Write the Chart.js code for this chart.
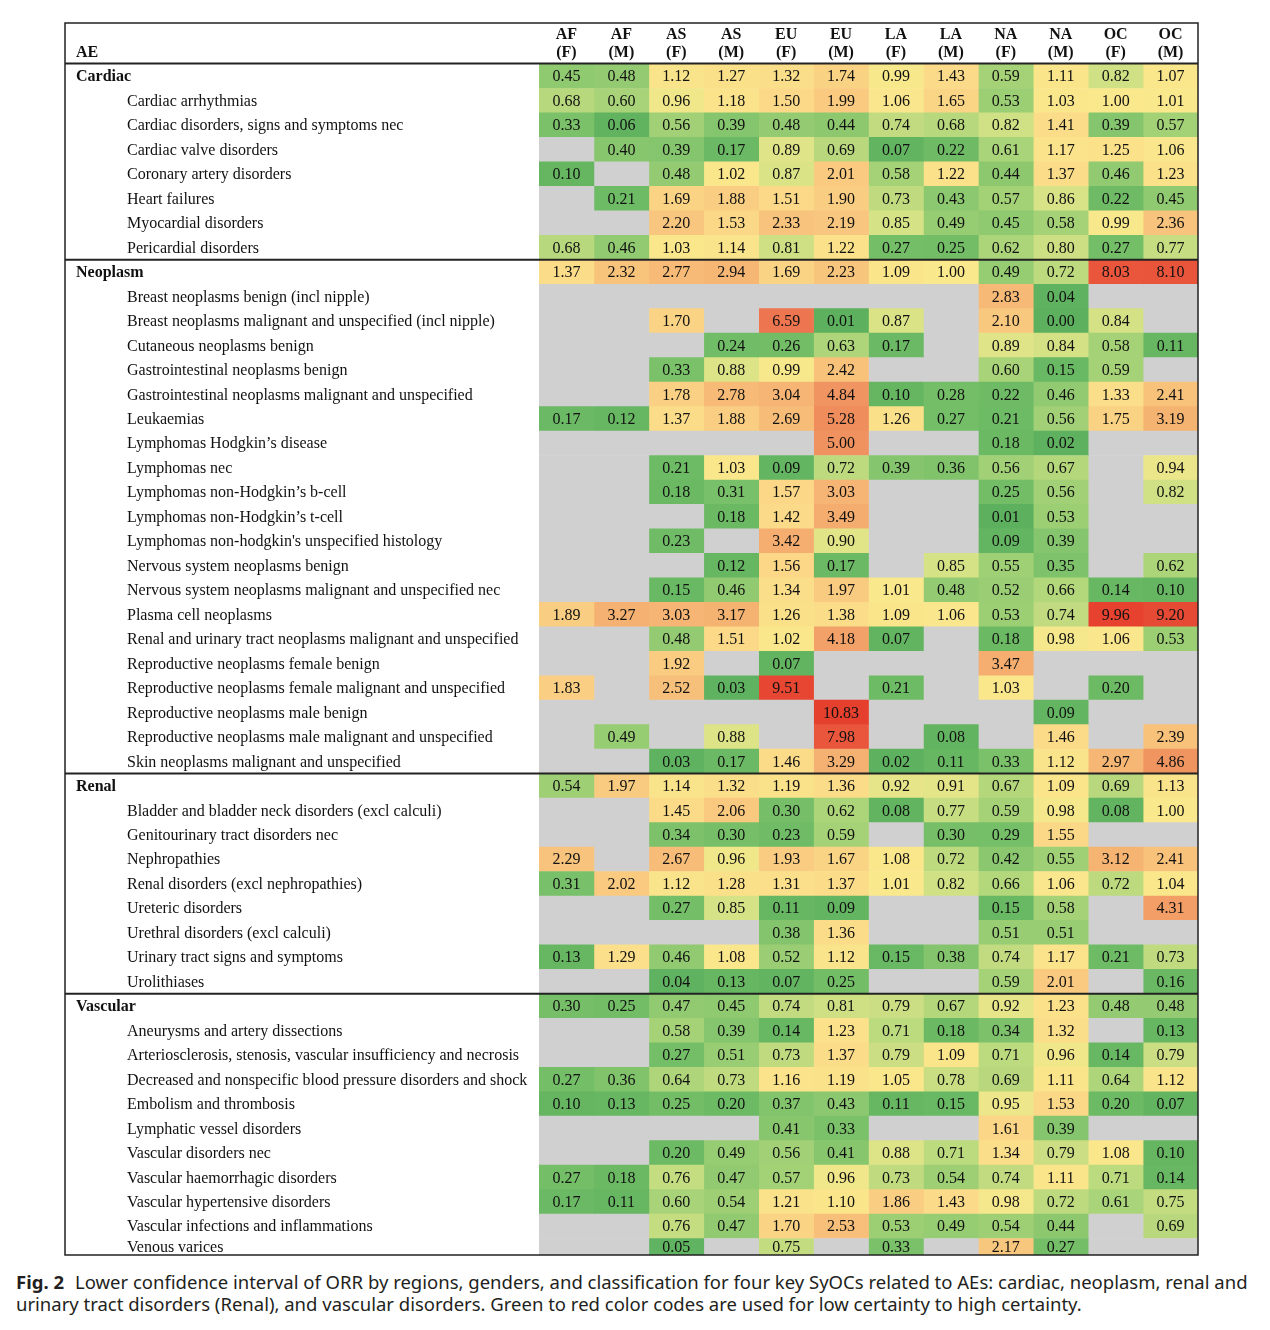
<!DOCTYPE html>
<html lang="en">
<head>
    <meta charset="UTF-8">
    <title>Fig. 2 Lower confidence interval of ORR</title>
    <script src="https://cdn.jsdelivr.net/npm/chart.js"></script>
    <style>
        body {
            margin: 0;
            background: #fff;
        }
        #wrap {
            position: relative;
            width: 1270px;
            height: 1330px;
        }
        #heat {
            position: absolute;
            left: 0;
            top: 0;
        }
        .caption {
            position: absolute;
            left: 16px;
            top: 1271px;
            font-family: "Noto Sans", sans-serif;
            font-size: 18.5px;
            line-height: 22px;
            color: #231f20;
            white-space: nowrap;
        }
        .caption b {
            margin-right: 11px;
        }
    </style>
</head>
<body>
<div id="wrap">
    <canvas id="heat" width="1270" height="1268"></canvas>
    <div class="caption"><b>Fig. 2</b>Lower confidence interval of ORR by regions, genders, and classification for four key SyOCs related to AEs: cardiac, neoplasm, renal and<br>urinary tract disorders (Renal), and vascular disorders. Green to red color codes are used for low certainty to high certainty.</div>
</div>

<script>
    // column headers: region + gender
    const columns = [
        ['AF', '(F)'], ['AF', '(M)'], ['AS', '(F)'], ['AS', '(M)'],
        ['EU', '(F)'], ['EU', '(M)'], ['LA', '(F)'], ['LA', '(M)'],
        ['NA', '(F)'], ['NA', '(M)'], ['OC', '(F)'], ['OC', '(M)']
    ];

    const groupNames = ['Cardiac', 'Neoplasm', 'Renal', 'Vascular'];

    const cardiacItems = [
        'Cardiac arrhythmias',
        'Cardiac disorders, signs and symptoms nec',
        'Cardiac valve disorders',
        'Coronary artery disorders',
        'Heart failures',
        'Myocardial disorders',
        'Pericardial disorders'
    ];
    const neoplasmItems = [
        'Breast neoplasms benign (incl nipple)',
        'Breast neoplasms malignant and unspecified (incl nipple)',
        'Cutaneous neoplasms benign',
        'Gastrointestinal neoplasms benign',
        'Gastrointestinal neoplasms malignant and unspecified',
        'Leukaemias',
        'Lymphomas Hodgkin\u2019s disease',
        'Lymphomas nec',
        'Lymphomas non-Hodgkin\u2019s b-cell',
        'Lymphomas non-Hodgkin\u2019s t-cell',
        "Lymphomas non-hodgkin's unspecified histology",
        'Nervous system neoplasms benign',
        'Nervous system neoplasms malignant and unspecified nec',
        'Plasma cell neoplasms',
        'Renal and urinary tract neoplasms malignant and unspecified',
        'Reproductive neoplasms female benign',
        'Reproductive neoplasms female malignant and unspecified',
        'Reproductive neoplasms male benign',
        'Reproductive neoplasms male malignant and unspecified',
        'Skin neoplasms malignant and unspecified'
    ];
    const renalItems = [
        'Bladder and bladder neck disorders (excl calculi)',
        'Genitourinary tract disorders nec',
        'Nephropathies',
        'Renal disorders (excl nephropathies)',
        'Ureteric disorders',
        'Urethral disorders (excl calculi)',
        'Urinary tract signs and symptoms',
        'Urolithiases'
    ];
    const vascularItems = [
        'Aneurysms and artery dissections',
        'Arteriosclerosis, stenosis, vascular insufficiency and necrosis',
        'Decreased and nonspecific blood pressure disorders and shock',
        'Embolism and thrombosis',
        'Lymphatic vessel disorders',
        'Vascular disorders nec',
        'Vascular haemorrhagic disorders',
        'Vascular hypertensive disorders',
        'Vascular infections and inflammations',
        'Venous varices'
    ];

    // first row of each block is the group total, null = no value (grey)
    const cardiacValues = [
        [0.45, 0.48, 1.12, 1.27, 1.32, 1.74, 0.99, 1.43, 0.59, 1.11, 0.82, 1.07],
        [0.68, 0.60, 0.96, 1.18, 1.50, 1.99, 1.06, 1.65, 0.53, 1.03, 1.00, 1.01],
        [0.33, 0.06, 0.56, 0.39, 0.48, 0.44, 0.74, 0.68, 0.82, 1.41, 0.39, 0.57],
        [null, 0.40, 0.39, 0.17, 0.89, 0.69, 0.07, 0.22, 0.61, 1.17, 1.25, 1.06],
        [0.10, null, 0.48, 1.02, 0.87, 2.01, 0.58, 1.22, 0.44, 1.37, 0.46, 1.23],
        [null, 0.21, 1.69, 1.88, 1.51, 1.90, 0.73, 0.43, 0.57, 0.86, 0.22, 0.45],
        [null, null, 2.20, 1.53, 2.33, 2.19, 0.85, 0.49, 0.45, 0.58, 0.99, 2.36],
        [0.68, 0.46, 1.03, 1.14, 0.81, 1.22, 0.27, 0.25, 0.62, 0.80, 0.27, 0.77]
    ];
    const neoplasmValues = [
        [1.37, 2.32, 2.77, 2.94, 1.69, 2.23, 1.09, 1.00, 0.49, 0.72, 8.03, 8.10],
        [null, null, null, null, null, null, null, null, 2.83, 0.04, null, null],
        [null, null, 1.70, null, 6.59, 0.01, 0.87, null, 2.10, 0.00, 0.84, null],
        [null, null, null, 0.24, 0.26, 0.63, 0.17, null, 0.89, 0.84, 0.58, 0.11],
        [null, null, 0.33, 0.88, 0.99, 2.42, null, null, 0.60, 0.15, 0.59, null],
        [null, null, 1.78, 2.78, 3.04, 4.84, 0.10, 0.28, 0.22, 0.46, 1.33, 2.41],
        [0.17, 0.12, 1.37, 1.88, 2.69, 5.28, 1.26, 0.27, 0.21, 0.56, 1.75, 3.19],
        [null, null, null, null, null, 5.00, null, null, 0.18, 0.02, null, null],
        [null, null, 0.21, 1.03, 0.09, 0.72, 0.39, 0.36, 0.56, 0.67, null, 0.94],
        [null, null, 0.18, 0.31, 1.57, 3.03, null, null, 0.25, 0.56, null, 0.82],
        [null, null, null, 0.18, 1.42, 3.49, null, null, 0.01, 0.53, null, null],
        [null, null, 0.23, null, 3.42, 0.90, null, null, 0.09, 0.39, null, null],
        [null, null, null, 0.12, 1.56, 0.17, null, 0.85, 0.55, 0.35, null, 0.62],
        [null, null, 0.15, 0.46, 1.34, 1.97, 1.01, 0.48, 0.52, 0.66, 0.14, 0.10],
        [1.89, 3.27, 3.03, 3.17, 1.26, 1.38, 1.09, 1.06, 0.53, 0.74, 9.96, 9.20],
        [null, null, 0.48, 1.51, 1.02, 4.18, 0.07, null, 0.18, 0.98, 1.06, 0.53],
        [null, null, 1.92, null, 0.07, null, null, null, 3.47, null, null, null],
        [1.83, null, 2.52, 0.03, 9.51, null, 0.21, null, 1.03, null, 0.20, null],
        [null, null, null, null, null, 10.83, null, null, null, 0.09, null, null],
        [null, 0.49, null, 0.88, null, 7.98, null, 0.08, null, 1.46, null, 2.39],
        [null, null, 0.03, 0.17, 1.46, 3.29, 0.02, 0.11, 0.33, 1.12, 2.97, 4.86]
    ];
    const renalValues = [
        [0.54, 1.97, 1.14, 1.32, 1.19, 1.36, 0.92, 0.91, 0.67, 1.09, 0.69, 1.13],
        [null, null, 1.45, 2.06, 0.30, 0.62, 0.08, 0.77, 0.59, 0.98, 0.08, 1.00],
        [null, null, 0.34, 0.30, 0.23, 0.59, null, 0.30, 0.29, 1.55, null, null],
        [2.29, null, 2.67, 0.96, 1.93, 1.67, 1.08, 0.72, 0.42, 0.55, 3.12, 2.41],
        [0.31, 2.02, 1.12, 1.28, 1.31, 1.37, 1.01, 0.82, 0.66, 1.06, 0.72, 1.04],
        [null, null, 0.27, 0.85, 0.11, 0.09, null, null, 0.15, 0.58, null, 4.31],
        [null, null, null, null, 0.38, 1.36, null, null, 0.51, 0.51, null, null],
        [0.13, 1.29, 0.46, 1.08, 0.52, 1.12, 0.15, 0.38, 0.74, 1.17, 0.21, 0.73],
        [null, null, 0.04, 0.13, 0.07, 0.25, null, null, 0.59, 2.01, null, 0.16]
    ];
    const vascularValues = [
        [0.30, 0.25, 0.47, 0.45, 0.74, 0.81, 0.79, 0.67, 0.92, 1.23, 0.48, 0.48],
        [null, null, 0.58, 0.39, 0.14, 1.23, 0.71, 0.18, 0.34, 1.32, null, 0.13],
        [null, null, 0.27, 0.51, 0.73, 1.37, 0.79, 1.09, 0.71, 0.96, 0.14, 0.79],
        [0.27, 0.36, 0.64, 0.73, 1.16, 1.19, 1.05, 0.78, 0.69, 1.11, 0.64, 1.12],
        [0.10, 0.13, 0.25, 0.20, 0.37, 0.43, 0.11, 0.15, 0.95, 1.53, 0.20, 0.07],
        [null, null, null, null, 0.41, 0.33, null, null, 1.61, 0.39, null, null],
        [null, null, 0.20, 0.49, 0.56, 0.41, 0.88, 0.71, 1.34, 0.79, 1.08, 0.10],
        [0.27, 0.18, 0.76, 0.47, 0.57, 0.96, 0.73, 0.54, 0.74, 1.11, 0.71, 0.14],
        [0.17, 0.11, 0.60, 0.54, 1.21, 1.10, 1.86, 1.43, 0.98, 0.72, 0.61, 0.75],
        [null, null, 0.76, 0.47, 1.70, 2.53, 0.53, 0.49, 0.54, 0.44, null, 0.69],
        [null, null, 0.05, null, 0.75, null, 0.33, null, 2.17, 0.27, null, null]
    ];

    // green -> yellow -> red scale
    const colorStops = [
        [0.0, 92, 176, 94],
        [0.3, 118, 191, 104],
        [0.6, 168, 211, 120],
        [0.85, 214, 226, 134],
        [1.0, 250, 232, 140],
        [1.5, 251, 217, 136],
        [2.0, 249, 202, 128],
        [3.0, 246, 182, 116],
        [5.0, 240, 146, 95],
        [7.0, 236, 111, 77],
        [8.0, 233, 86, 60],
        [10.0, 230, 66, 47],
        [11.0, 229, 62, 45]
    ];
    const GREY = '#d0d0d0';

    function cellColor(v) {
        if (v === null) return GREY;
        for (let i = 1; i < colorStops.length; i++) {
            const a = colorStops[i - 1], b = colorStops[i];
            if (v <= b[0]) {
                const t = (v - a[0]) / (b[0] - a[0]);
                const mix = k => Math.round(a[k] + (b[k] - a[k]) * t);
                return `rgb(${mix(1)},${mix(2)},${mix(3)})`;
            }
        }
        const l = colorStops[colorStops.length - 1];
        return `rgb(${l[1]},${l[2]},${l[3]})`;
    }

    // flatten groups into table rows
    const groups = [
        [groupNames[0], cardiacItems, cardiacValues],
        [groupNames[1], neoplasmItems, neoplasmValues],
        [groupNames[2], renalItems, renalValues],
        [groupNames[3], vascularItems, vascularValues]
    ];
    const rows = [];
    groups.forEach(([name, items, vals]) => {
        rows.push({ label: name, header: true, values: vals[0] });
        items.forEach((it, i) => rows.push({ label: it, header: false, values: vals[i + 1] }));
    });

    const datasets = columns.map((col, c) => ({
        label: col.join(' '),
        data: rows.map(() => 1),
        cellValues: rows.map(r => r.values[c]),
        backgroundColor: rows.map(r => cellColor(r.values[c])),
        borderWidth: 0,
        barPercentage: 1,
        categoryPercentage: 1,
        clip: { left: 0, top: 0, right: 0, bottom: -8 }
    }));

    const SERIF = '"Liberation Serif", "Times New Roman", serif';
    const TABLE_LEFT = 65, TABLE_TOP = 23, TABLE_BOTTOM = 1255;

    const tablePlugin = {
        id: 'tableText',
        afterDatasetsDraw(chart) {
            const ctx = chart.ctx;
            const area = chart.chartArea;
            const yScale = chart.scales.y;
            const xScale = chart.scales.x;
            const pitch = (area.bottom - area.top) / rows.length;

            const rowMid = i => {
                const top = yScale.getPixelForValue(i) - pitch / 2;
                const bottom = Math.min(top + pitch, TABLE_BOTTOM);
                return (top + bottom) / 2 + 1;
            };

            ctx.save();
            ctx.fillStyle = '#111';
            ctx.textBaseline = 'middle';

            // cell values
            ctx.textAlign = 'center';
            ctx.font = '16px ' + SERIF;
            chart.data.datasets.forEach((ds, c) => {
                const meta = chart.getDatasetMeta(c);
                meta.data.forEach((bar, i) => {
                    const v = ds.cellValues[i];
                    if (v === null) return;
                    ctx.fillText(v.toFixed(2), bar.getCenterPoint().x, rowMid(i));
                });
            });

            // row labels
            ctx.textAlign = 'left';
            rows.forEach((r, i) => {
                ctx.font = (r.header ? 'bold ' : '') + '16px ' + SERIF;
                ctx.fillText(r.label, r.header ? 76 : 127, rowMid(i));
            });

            // column headers
            ctx.font = 'bold 16px ' + SERIF;
            ctx.fillText('AE', 76, 53);
            ctx.textAlign = 'center';
            columns.forEach((col, c) => {
                const x = xScale.getPixelForValue(c + 0.5);
                ctx.fillText(col[0], x, 35);
                ctx.fillText(col[1], x, 53);
            });

            // outer box
            ctx.strokeStyle = '#222';
            ctx.lineWidth = 1.5;
            ctx.strokeRect(TABLE_LEFT, TABLE_TOP, area.right - TABLE_LEFT, TABLE_BOTTOM - TABLE_TOP);

            // header rule and group separators
            ctx.lineWidth = 2;
            const seps = [area.top - 0.5];
            rows.forEach((r, i) => {
                if (r.header && i > 0) seps.push(yScale.getPixelForValue(i) - pitch / 2);
            });
            seps.forEach(y => {
                ctx.beginPath();
                ctx.moveTo(TABLE_LEFT, y);
                ctx.lineTo(area.right, y);
                ctx.stroke();
            });
            ctx.restore();
        }
    };

    new Chart(document.getElementById('heat'), {
        type: 'bar',
        data: {
            labels: rows.map(r => r.label),
            datasets: datasets
        },
        options: {
            indexAxis: 'y',
            responsive: false,
            animation: false,
            events: [],
            layout: {
                padding: { left: 539, top: 64, right: 72, bottom: 5 }
            },
            plugins: {
                legend: { display: false },
                tooltip: { enabled: false }
            },
            scales: {
                x: { stacked: true, min: 0, max: 12, display: false },
                y: { stacked: true, display: false }
            }
        },
        plugins: [tablePlugin]
    });
</script>
</body>
</html>
